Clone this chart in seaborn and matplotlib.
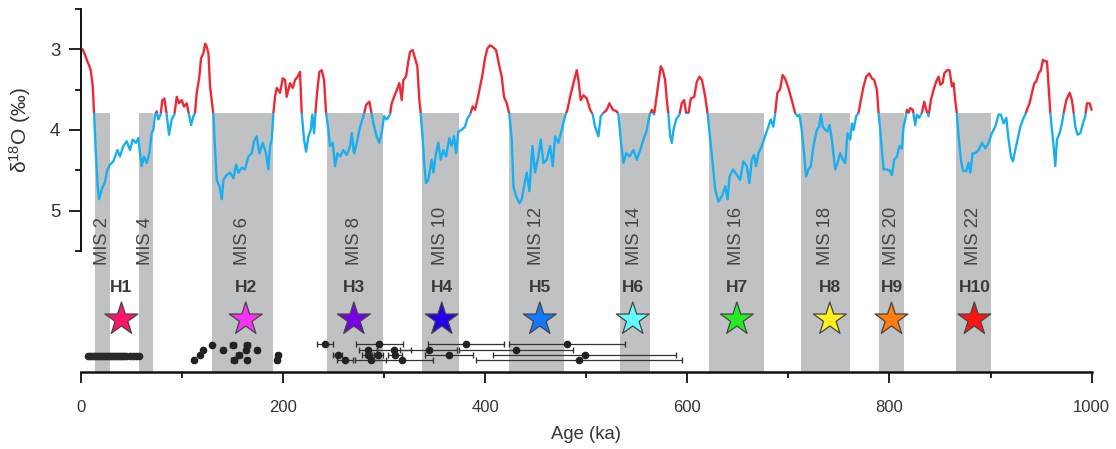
import numpy as np
import pandas as pd
import seaborn as sns
import matplotlib.pyplot as plt
from matplotlib.patches import Rectangle

# benthic d18O stack (ka, permil)
age = [0, 1.6, 4.0, 6.3, 8.3, 9.6, 11.6, 12.9, 14.5, 16.5, 17.8, 20.5, 23.8, 26.1, 28.7, 32.0,
       36.0, 38.6, 41.9, 45.2, 48.5, 51.1, 54.4, 56.7, 58.4, 60.0, 62.3, 65.0, 67.6, 69.9, 71.6,
       73.2, 74.9, 76.5, 78.8, 80.5, 82.5, 84.8, 87.1, 89.7, 92.4, 94.7, 97.0, 99.6, 101.9, 104.6,
       107.2, 108.9, 111.2, 112.8, 114.5, 117.1, 118.8, 121.1, 122.8, 124.4, 126.1, 127.7, 130.0,
       131.0, 132.7, 134.3, 137.0, 139.3, 140.9, 144.2, 147.5, 150.8, 153.4, 155.7, 159.0, 162.3,
       165.6, 168.9, 171.2, 173.8, 176.5, 179.8, 183.1, 185.4, 187.1, 188.7, 190.4, 192.0, 193.7,
       197.0, 199.6, 201.9, 203.5, 206.8, 209.5, 211.8, 214.4, 216.7, 218.4, 220.7, 222.7, 225.0,
       227.3, 228.9, 230.6, 232.2, 233.9, 235.9, 238.2, 240.5, 242.5, 244.8, 246.4, 249.1, 251.4,
       253.7, 256.4, 259.7, 263.0, 266.3, 267.9, 270.2, 272.9, 276.2, 279.5, 282.1, 285.4,
       289.3, 292.6, 295.2, 297.5, 299.8, 302.5, 305.8, 307.4, 309.8, 312.4, 315.0, 317.4, 319.0,
       321.6, 323.9, 325.6, 328.2, 330.5, 332.8, 334.8, 336.1, 338.1, 339.8, 341.4, 343.7, 347.0,
       348.7, 351.3, 353.6, 355.9, 358.6, 361.2, 364.5, 366.8, 369.1, 371.1, 373.4, 376.7, 380.0,
       382.3, 385.0, 387.6, 389.9, 392.2, 394.9, 397.2, 399.8, 402.1, 404.8, 407.4, 410.7, 414.0,
       416.3, 418.6, 421.3, 423.9, 426.2, 427.9, 430.5, 433.8, 436.1, 438.4, 441.1, 443.7, 446.7,
       449.3, 452.6, 454.9, 457.6, 460.9, 464.2, 466.8, 469.1, 472.4, 475.7, 479.0, 481.3, 484.0,
       487.3, 490.6, 492.2, 494.5, 497.2, 500.5, 503.8, 506.4, 508.7, 512.0, 514.3, 517.0, 520.3,
       522.9, 526.2, 530.2, 531.8, 534.1, 536.8, 539.4, 542.7, 546.7, 550.0, 553.3, 556.6, 559.9,
       562.4, 564.8, 567.1, 569.1, 571.4, 573.7, 575.7, 578.0, 579.7, 581.3, 583.0, 584.6, 586.3,
       588.9, 592.2, 594.5, 596.8, 598.8, 601.2, 603.5, 606.8, 609.4, 612.1, 614.4, 617.7, 620.0,
       622.7, 625.3, 627.6, 630.9, 634.2, 637.5, 639.8, 641.8, 645.1, 649.0,
       652.2, 655.4, 658.8, 661.4, 663.7, 666.0, 668.0, 670.3, 673.6, 676.9, 680.2, 682.5, 685.1,
       686.8, 689.1, 691.7, 694.3, 696.6, 700.0, 703.3, 706.6, 708.9, 710.9, 713.2, 715.5, 717.5,
       719.8, 722.1, 724.8, 728.1, 730.4, 732.1, 734.1, 736.4, 738.7, 740.7, 743.0, 746.3, 748.6,
       751.2, 753.9, 756.2, 758.5, 761.2, 762.8, 764.5, 767.1, 769.4, 771.7, 774.4, 777.0, 780.0,
       782.6, 784.9, 787.6, 789.2, 790.9, 792.5, 794.2, 797.5, 800.8, 802.4, 804.7, 807.4, 810.0,
       812.3, 814.0, 815.6, 817.3, 818.9, 820.6, 823.2, 825.5, 827.2, 829.5, 832.1, 834.4, 836.4,
       838.7, 841.0, 843.7, 846.3, 848.6, 850.3, 852.6, 854.2, 856.9, 859.5, 861.8, 863.5, 865.1,
       866.8, 868.4, 870.7, 872.7, 876.0, 878.3, 880.0, 882.3, 884.9, 888.2, 891.5, 894.8, 898.1,
       901.4, 904.7, 908.0, 910.3, 913.0, 915.6, 917.9, 920.2, 922.2, 924.5, 926.8, 929.5, 932.1,
       934.4, 936.7, 938.7, 941.0, 943.4, 945.3, 947.6, 949.9, 951.9, 954.2, 955.9, 957.5, 959.2,
       960.8, 962.5, 964.1, 965.8, 968.4, 970.7, 972.4, 975.0, 978.3, 980.6, 982.3, 983.9, 986.2,
       988.9, 991.5, 993.8, 995.5, 998.1, 1000.0]
d18o = [3.02, 3.00, 3.07, 3.15, 3.21, 3.26, 3.46, 3.79, 4.25, 4.70, 4.86, 4.74, 4.64, 4.49, 4.43, 4.39,
        4.25, 4.33, 4.20, 4.14, 4.25, 4.12, 4.16, 4.10, 4.29, 4.45, 4.33, 4.41, 4.29, 4.04, 4.00,
        3.81, 3.77, 3.87, 3.81, 3.63, 3.61, 3.81, 4.06, 3.87, 3.81, 3.59, 3.67, 3.63, 3.71, 3.67,
        3.83, 3.94, 3.83, 3.79, 3.54, 3.34, 3.11, 3.05, 2.93, 2.97, 3.05, 3.46, 3.71,
        3.81, 4.25, 4.62, 4.70, 4.86, 4.62, 4.56, 4.53, 4.60, 4.43, 4.53, 4.47, 4.49,
        4.33, 4.29, 4.14, 4.08, 4.29, 4.16, 4.29, 4.49, 4.20, 4.12, 3.79, 3.59, 3.48,
        3.54, 3.36, 3.38, 3.59, 3.42, 3.48, 3.38, 3.34, 3.28, 3.79, 4.12, 4.27, 4.08,
        4.00, 3.81, 4.04, 3.75, 3.50, 3.28, 3.26, 3.38, 3.79, 4.00, 4.20, 4.16, 4.45,
        4.29, 4.33, 4.25, 4.31, 4.20, 4.04, 4.29, 4.16, 3.96, 3.83, 3.69, 3.65,
        3.92, 4.08, 4.16, 4.04, 3.83, 3.87, 3.81, 3.67, 3.59, 3.50, 3.42, 3.63, 3.38,
        3.34, 3.15, 3.03, 3.01, 3.11, 3.21, 3.63, 3.79, 4.12, 4.45, 4.66, 4.62, 4.37,
        4.53, 4.29, 4.16, 4.37, 4.25, 4.33, 4.10, 4.20, 4.08, 4.29, 4.02, 4.00, 3.96,
        3.86, 3.81, 3.71, 3.75, 3.63, 3.46, 3.32, 3.11, 2.99, 2.95, 2.97, 3.01, 3.21,
        3.34, 3.59, 3.67, 3.81, 4.12, 4.70, 4.82, 4.91, 4.86, 4.70, 4.53, 4.76, 4.20,
        4.53, 4.33, 4.12, 4.41, 4.37, 4.20, 4.45, 4.08, 4.16, 4.00, 3.83, 3.75, 3.59,
        3.42, 3.26, 3.38, 3.63, 3.57, 3.61, 3.75, 3.81, 3.96, 4.08, 3.83, 3.79, 3.75,
        3.67, 3.75, 3.77, 3.81, 4.12, 4.41, 4.29, 4.33, 4.25, 4.37, 4.25, 4.12, 4.00,
        3.83, 3.75, 3.81, 3.63, 3.42, 3.21, 3.26, 3.38, 3.63, 3.81, 4.08, 4.16, 4.00,
        3.87, 3.81, 3.67, 3.63, 3.79, 3.79, 3.61, 3.59, 3.40, 3.34, 3.38, 3.59, 3.79,
        4.12, 4.45, 4.74, 4.89, 4.82, 4.70, 4.86, 4.58, 4.49, 4.56,
        4.62, 4.39, 4.45, 4.66, 4.37, 4.31, 4.45, 4.29, 4.20, 4.08, 3.96, 3.87, 3.96,
        3.81, 3.54, 3.50, 3.32, 3.36, 3.48, 3.63, 3.79, 3.83, 3.81, 4.00, 4.29, 4.58,
        4.49, 4.45, 4.20, 4.00, 3.96, 3.81, 3.96, 4.00, 4.02, 3.94, 4.12, 4.49, 4.41,
        4.29, 4.37, 4.41, 4.04, 4.12, 3.92, 4.00, 3.83, 3.79, 3.63, 3.46, 3.34, 3.30,
        3.36, 3.38, 3.50, 3.79, 4.00, 4.25, 4.49, 4.49, 4.51, 4.56, 4.37, 4.33, 4.20,
        4.23, 3.96, 3.87, 3.75, 3.79, 3.73, 3.75, 3.94, 3.81, 3.85, 3.79, 3.65, 3.75,
        3.83, 3.63, 3.50, 3.40, 3.34, 3.44, 3.42, 3.30, 3.26, 3.26, 3.46, 3.42, 3.63,
        3.81, 4.08, 4.37, 4.51, 4.51, 4.41, 4.53, 4.29, 4.29, 4.25, 4.16, 4.23, 4.16,
        4.04, 3.96, 3.81, 3.81, 3.92, 3.85, 4.12, 4.33, 4.39, 4.25, 4.12, 3.96, 3.87,
        3.81, 3.73, 3.67, 3.54, 3.42, 3.40, 3.30, 3.26, 3.13, 3.15, 3.15, 3.46, 3.79,
        4.00, 4.20, 4.45, 4.12, 4.04, 3.92, 3.79, 3.63, 3.54, 3.63, 3.79, 3.96, 4.06,
        4.04, 3.92, 3.83, 3.67, 3.67, 3.75]
threshold = 3.79

# glacial stages (grey bands)
mis_labels = ["MIS 2", "MIS 4", "MIS 6", "MIS 8", "MIS 10", "MIS 12",
              "MIS 14", "MIS 16", "MIS 18", "MIS 20", "MIS 22"]
mis_start = [14, 57, 130, 243, 337, 424, 533, 621, 712, 790, 866]
mis_end = [29, 71, 190, 299, 374, 478, 563, 676, 761, 814, 900]

# stars
h_labels = ["H1", "H2", "H3", "H4", "H5", "H6", "H7", "H8", "H9", "H10"]
h_age = [40, 163, 270, 357, 454, 546, 649, 741, 802, 884]
h_colors = ["#ff146e", "#f832f5", "#7800e6", "#2300eb", "#1478ff",
            "#64ffff", "#28eb28", "#fff01e", "#ff7d0f", "#ff1414"]

# dated samples
h1_ages = [7, 9, 11, 13, 15, 17, 19, 21, 23, 25, 27, 29, 31, 33, 35, 37, 39, 41, 43,
           45, 48, 51, 54, 57]
h2_ages = [111.8, 117.8, 120.4, 129.6, 140.8, 150.1, 164.6, 163.3, 173.9, 156.4, 151.7,
           164.6, 195.3, 193.7]
h2_err = [0, 0, 0, 0, 2, 3, 3, 2, 2, 3, 3, 2, 2, 2]
h2_row = [6.85, 6.79, 6.73, 6.67, 6.73, 6.67, 6.67, 6.73, 6.73, 6.79, 6.85, 6.85, 6.79, 6.85]
old_ages = [241.5, 295.2, 381.0, 481.0,
            284.0, 310.0, 344.0, 430.5,
            254.0, 284.0, 293.5, 310.6, 364.0, 498.4,
            261.3, 286.5, 318.0, 492.5]
old_err = [8.2, 23.2, 38.0, 57.2,
           8.6, 17.0, 28.0, 56.7,
           4.3, 6.1, 5.8, 6.8, 23.6, 90.4,
           8.3, 15.3, 30.2, 101.9]
old_row = [6.66, 6.66, 6.66, 6.66,
           6.73, 6.73, 6.73, 6.73,
           6.79, 6.79, 6.79, 6.79, 6.79, 6.79,
           6.86, 6.86, 6.86, 6.86]

sns.set_style("ticks")
plt.rcParams["font.family"] = ["Liberation Sans", "DejaVu Sans"]
plt.rcParams["mathtext.default"] = "regular"

fig = plt.figure(figsize=(11.16, 4.49), dpi=100)
ax = fig.add_axes([0.0726, 0.172, 0.9055, 0.817])

y_bottom = 7.0
ax.bar(mis_start, [y_bottom - threshold] * len(mis_start), bottom=threshold,
       width=np.subtract(mis_end, mis_start), align="edge", color="#c0c1c3",
       linewidth=0, zorder=0)

df = pd.DataFrame({"age": age, "d18o": d18o})
sns.lineplot(data=df, x="age", y="d18o", color="#ec2a35", lw=1.7, sort=False,
             estimator=None, ax=ax)
sns.lineplot(data=df, x="age", y="d18o", color="#18aff0", lw=1.7, sort=False,
             estimator=None, ax=ax)
red_line, blue_line = ax.get_lines()[-2], ax.get_lines()[-1]
red_line.set_clip_path(Rectangle((-10, 2.0), 1020, threshold - 2.0, transform=ax.transData))
blue_line.set_clip_path(Rectangle((-10, threshold), 1020, 4.0, transform=ax.transData))

for lab, a, b in zip(mis_labels, mis_start, mis_end):
    ax.text((a + b) / 2, 5.67, lab, rotation=90, rotation_mode="anchor", ha="left",
            va="center", fontsize=13.2, color="#444444")

for lab, a in zip(h_labels, h_age):
    ax.text(a, 5.95, lab, ha="center", va="center", fontsize=12.5,
            fontweight="bold", color="#3a3a3a")

sns.scatterplot(x=h_age, y=[6.35] * len(h_age), hue=h_labels, palette=h_colors,
                marker="*", s=620, edgecolor="#454545", linewidth=0.9, legend=False,
                zorder=5, ax=ax)

ax.plot(h1_ages, [6.81] * len(h1_ages), "o", color="#2a2a2a", ms=4.5, zorder=4)
ax.errorbar(h2_ages, h2_row, xerr=h2_err, fmt="o", ms=4.5, color="#222222",
            ecolor="#333333", elinewidth=0.9, capsize=2.5, zorder=4)
ax.errorbar(old_ages, old_row, xerr=old_err, fmt="o", ms=4.5, color="#222222",
            ecolor="#333333", elinewidth=0.9, capsize=2.5, zorder=4)

ax.set_xlim(0, 1000)
ax.set_ylim(y_bottom, 2.45)
sns.despine(ax=ax)
ax.spines["left"].set_bounds(2.5, 5.5)
ax.spines["left"].set_linewidth(1.4)
ax.spines["bottom"].set_linewidth(1.8)
ax.spines["left"].set_color("#111111")
ax.spines["bottom"].set_color("#111111")

ax.set_yticks([3, 4, 5])
ax.set_yticks([2.5, 3.5, 4.5, 5.5], minor=True)
ax.set_xticks(range(0, 1001, 200))
ax.set_xticks(range(100, 1000, 200), minor=True)
ax.tick_params(axis="y", which="major", length=9, width=1.3, pad=6, labelsize=13.4,
               colors="#111111", labelcolor="#333333")
ax.tick_params(axis="y", which="minor", length=4.5, width=1.3, colors="#111111")
ax.tick_params(axis="x", which="major", length=8, width=1.3, pad=12, labelsize=12,
               colors="#111111", labelcolor="#333333")
ax.tick_params(axis="x", which="minor", length=4, width=1.3, colors="#111111")

ax.set_xlabel("Age (ka)", fontsize=13.3, color="#333333", labelpad=8)
ax.set_ylabel(r"δ$^{18}$O (‰)", fontsize=15, color="#333333")
ax.yaxis.set_label_coords(-0.048, 0.659)

fig.savefig("out.png", dpi=100)
